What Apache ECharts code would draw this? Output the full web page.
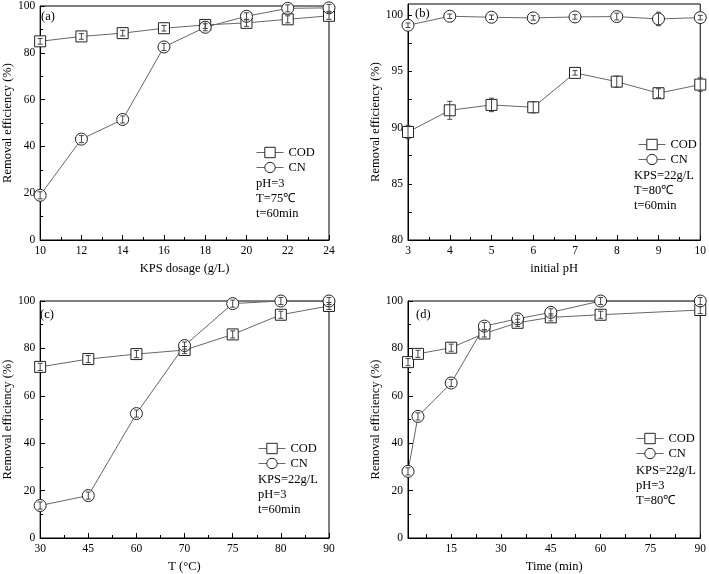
<!DOCTYPE html>
<html><head><meta charset="utf-8">
<script src="https://cdn.jsdelivr.net/npm/echarts@6/dist/echarts.min.js"></script>
<style>html,body{margin:0;padding:0;background:#fff}#c{width:709px;height:574px}</style>
</head><body><div id="c"></div><script>
// (a) KPS dosage
const kpsDose=[10,12,14,16,18,20,22,24];
const aCOD=[84.9,87.0,88.4,90.5,91.9,92.8,94.3,95.8];
const aCODerr=[1.2,1.2,1.2,1.2,1.5,1.5,1.5,1.5];
const aCN=[19.1,43.1,51.5,82.5,90.9,95.6,99.0,99.2];
const aCNerr=[1.5,1.5,1.5,1.5,1.5,1.5,1.5,1.5];
// (b) initial pH
const initPH=[3,4,5,6,7,8,9,10];
const bCOD=[89.61,91.54,92.02,91.81,94.87,94.09,93.06,93.83];
const bCODerr=[0.6,0.8,0.6,0.5,0.2,0.5,0.4,0.6];
const bCN=[99.11,99.91,99.82,99.76,99.85,99.88,99.67,99.79];
const bCNerr=[0.2,0.2,0.2,0.2,0.2,0.3,0.6,0.2];
// (c) temperature
const tempLabels=['30','45','60','70','75','80','90'];
const cCOD=[72.2,75.5,77.6,79.3,85.9,94.2,97.9];
const cCODerr=[1.5,1.5,1.5,1.5,1.5,1.5,1.5];
const cCN=[13.7,17.9,52.5,81.2,98.9,100,100];
const cCNerr=[1.5,1.5,1.5,1.5,1.5,1.5,1.5];
// (d) time
const timeMin=[2,5,15,25,35,45,60,90];
const dCOD=[74.2,77.7,80.3,86.3,90.8,93.1,94.2,96.2];
const dCODerr=[1.5,1.5,1.5,1.5,1.5,1.5,1.5,1.5];
const dCN=[28.1,51.3,65.4,89.4,92.5,95.2,100,100];
const dCNerr=[1.5,1.5,1.5,1.5,1.5,1.5,1.5,1.5];
// tick labels
const bYLabels=[80,85,90,95,100];
const bYTicks=[80,82.5,85,87.5,90,92.5,95,97.5,100];
const dXLabels=[15,30,45,60,75,90];
const dXTicks=[7.5,15,22.5,30,37.5,45,52.5,60,67.5,75,82.5,90];

const FONT='Liberation Serif, Times New Roman, serif';
const AX='#000';
function baseAxis(extra){
  return Object.assign({
    type:'value',
    axisLine:{show:true,onZero:false,lineStyle:{color:AX,width:1}},
    axisTick:{show:true,inside:true,length:5,lineStyle:{color:AX}},
    minorTick:{show:true,splitNumber:2,length:3,lineStyle:{color:AX}},
    splitLine:{show:false},
    axisLabel:{color:'#000',fontFamily:FONT,fontSize:11.5,margin:5},
    nameLocation:'middle',
    nameTextStyle:{color:'#000',fontFamily:FONT,fontSize:12.5}
  },extra);
}
function errRender(params,api){
  const x=api.value(0),y=api.value(1),e=api.value(2);
  const p1=api.coord([x,y+e]),p2=api.coord([x,y-e]);
  const w=2.5,style={stroke:'#444',lineWidth:1};
  return {type:'group',children:[
    {type:'line',shape:{x1:p1[0],y1:p1[1],x2:p2[0],y2:p2[1]},style:style},
    {type:'line',shape:{x1:p1[0]-w,y1:p1[1],x2:p1[0]+w,y2:p1[1]},style:style},
    {type:'line',shape:{x1:p2[0]-w,y1:p2[1],x2:p2[0]+w,y2:p2[1]},style:style}
  ]};
}
const zip=(xs,ys)=>xs.map((x,i)=>[x,ys[i]]);
const zip3=(xs,ys,es)=>xs.map((x,i)=>[x,ys[i],es[i]]);
const idx=tempLabels.map((_,i)=>i);

const series=[];
function addPanel(g,xs,cod,codE,cn,cnE){
  series.push({name:'COD',type:'line',xAxisIndex:g,yAxisIndex:g,data:zip(xs,cod),
    symbol:'rect',symbolSize:11,lineStyle:{color:'#666',width:1},
    itemStyle:{color:'#fff',borderColor:'#222',borderWidth:1},z:3});
  series.push({name:'CN',type:'line',xAxisIndex:g,yAxisIndex:g,data:zip(xs,cn),
    symbol:'circle',symbolSize:12,lineStyle:{color:'#666',width:1},
    itemStyle:{color:'#fff',borderColor:'#222',borderWidth:1},z:3});
  series.push({name:'err'+g+'a',type:'custom',xAxisIndex:g,yAxisIndex:g,renderItem:errRender,data:zip3(xs,cod,codE),z:5,silent:true});
  series.push({name:'err'+g+'b',type:'custom',xAxisIndex:g,yAxisIndex:g,renderItem:errRender,data:zip3(xs,cn,cnE),z:5,silent:true});
}
addPanel(0,kpsDose,aCOD,aCODerr,aCN,aCNerr);
addPanel(1,initPH,bCOD,bCODerr,bCN,bCNerr);
addPanel(2,idx,cCOD,cCODerr,cCN,cCNerr);
addPanel(3,timeMin,dCOD,dCODerr,dCN,dCNerr);

const gridStyle={show:true,borderColor:'#000',borderWidth:1,backgroundColor:'transparent'};
const grids=[
  Object.assign({left:35,top:4,width:294,height:236},gridStyle),
  Object.assign({left:408,top:4,width:294,height:236},gridStyle),
  Object.assign({left:35,top:301,width:294,height:237},gridStyle),
  Object.assign({left:408,top:301,width:294,height:237},gridStyle)
];
const xAxes=[
  baseAxis({gridIndex:0,min:10,max:24,interval:2,name:'KPS dosage (g/L)',nameGap:22}),
  baseAxis({gridIndex:1,min:3,max:10,interval:1,name:'initial pH',nameGap:22}),
  baseAxis({gridIndex:2,min:0,max:6,interval:1,name:'T (\u00B0C)',nameGap:22,
    axisLabel:{color:'#000',fontFamily:FONT,fontSize:11.5,margin:5,formatter:v=>tempLabels[v]}}),
  baseAxis({gridIndex:3,min:2,max:90,name:'Time (min)',nameGap:22,
    minorTick:{show:false},
    axisTick:{show:true,inside:true,length:4,customValues:dXTicks,lineStyle:{color:AX}},
    axisLabel:{color:'#000',fontFamily:FONT,fontSize:11.5,margin:5,customValues:dXLabels}})
];
const yName='Removal efficiency (%)';
const yAxes=[
  baseAxis({gridIndex:0,min:0,max:100,interval:20,name:yName,nameGap:22}),
  baseAxis({gridIndex:1,min:80,max:101,name:yName,nameGap:22,
    minorTick:{show:false},
    axisTick:{show:true,inside:true,length:4,customValues:bYTicks,lineStyle:{color:AX}},
    axisLabel:{color:'#000',fontFamily:FONT,fontSize:11.5,margin:5,customValues:bYLabels}}),
  baseAxis({gridIndex:2,min:0,max:100,interval:20,name:yName,nameGap:22}),
  baseAxis({gridIndex:3,min:0,max:100,interval:20,name:yName,nameGap:22})
];
function leg(left,top){
  return {data:['COD','CN'],orient:'vertical',left:left,top:top,itemWidth:27,itemHeight:13,itemGap:2,
    itemStyle:{borderWidth:1,borderColor:'#222',color:'#fff'},
    lineStyle:{width:1,color:'#666'},
    textStyle:{color:'#000',fontFamily:FONT,fontSize:12.5},selectedMode:false,padding:0};
}
const tStyle={color:'#000',fontFamily:FONT,fontSize:12.5,fontWeight:'normal',lineHeight:15};
function ttl(text,left,top){return {text:text,left:left,top:top,padding:0,textStyle:tStyle};}
const option={
  animation:false,
  textStyle:{fontFamily:FONT},
  grid:grids,xAxis:xAxes,yAxis:yAxes,series:series,
  legend:[leg(256,146),leg(638,138),leg(258,442),leg(636,432)],
  title:[
    ttl('(a)',41,9),ttl('(b)',415,6),ttl('(c)',40,307),ttl('(d)',416,307),
    ttl('pH=3\nT=75\u2103\nt=60min',256,176),
    ttl('KPS=22g/L\nT=80\u2103\nt=60min',634,168),
    ttl('KPS=22g/L\npH=3\nt=60min',258,472),
    ttl('KPS=22g/L\npH=3\nT=80\u2103',636,463)
  ]
};
echarts.init(document.getElementById('c'),null,{renderer:'canvas'}).setOption(option);
</script></body></html>
